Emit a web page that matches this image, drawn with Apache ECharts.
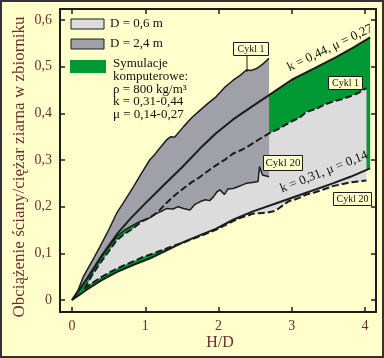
<!DOCTYPE html>
<html><head><meta charset="utf-8">
<script src="https://cdn.jsdelivr.net/npm/echarts@6/dist/echarts.min.js"></script>
<style>html,body{margin:0;padding:0;background:#FFFFCC}#c{width:384px;height:358px}</style>
</head><body><div id="c"></div>
<script>
// ---- tick values ----
const xTicks = [0, 1, 2, 3, 4];
const yTicks = [0, 0.1, 0.2, 0.3, 0.4, 0.5, 0.6];

// ---- D = 2,4 m envelope (Cykl 1 upper, Cykl 20 lower) ----
const grayTop = [[0,0],[0.08,0.02],[0.155,0.05],[0.27,0.082],[0.38,0.114],[0.5,0.15],[0.61,0.186],[0.72,0.213],[0.84,0.243],[0.95,0.272],[1.06,0.300],[1.12,0.31],[1.18,0.322],[1.29,0.343],[1.35,0.35],[1.4,0.349],[1.52,0.371],[1.63,0.39],[1.75,0.407],[1.86,0.422],[1.97,0.436],[2.08,0.455],[2.2,0.471],[2.3,0.482],[2.38,0.493],[2.45,0.492],[2.52,0.496],[2.6,0.505],[2.69,0.518]];
const grayBottom = [[0,0],[0.155,0.034],[0.27,0.06],[0.38,0.087],[0.5,0.114],[0.61,0.136],[0.72,0.15],[0.84,0.161],[0.95,0.17],[1.06,0.176],[1.15,0.185],[1.22,0.19],[1.29,0.196],[1.38,0.195],[1.45,0.2],[1.52,0.196],[1.61,0.193],[1.68,0.205],[1.75,0.211],[1.82,0.215],[1.88,0.213],[1.93,0.221],[1.98,0.232],[2.02,0.236],[2.08,0.226],[2.13,0.238],[2.2,0.239],[2.3,0.245],[2.38,0.25],[2.46,0.252],[2.54,0.254],[2.56,0.286],[2.6,0.268],[2.69,0.264]];

// ---- D = 0,6 m envelope (Cykl 1 upper dashed, Cykl 20 lower dashed) ----
const lightTop = [[0.17,0.024],[0.27,0.052],[0.38,0.078],[0.5,0.104],[0.61,0.128],[0.72,0.142],[0.84,0.154],[0.95,0.168],[1.06,0.176],[1.18,0.19],[1.29,0.208],[1.4,0.224],[1.52,0.239],[1.63,0.252],[1.75,0.264],[1.86,0.277],[1.97,0.289],[2.1,0.302],[2.2,0.314],[2.32,0.322],[2.43,0.332],[2.56,0.345],[2.69,0.357],[2.8,0.365],[2.9,0.374],[3.0,0.383],[3.1,0.39],[3.2,0.403],[3.34,0.41],[3.45,0.419],[3.56,0.425],[3.68,0.43],[3.79,0.436],[3.9,0.443],[4.02,0.454]];
const lightBottom = [[0.17,0.024],[0.27,0.036],[0.38,0.047],[0.5,0.058],[0.61,0.067],[0.72,0.075],[0.84,0.083],[0.95,0.091],[1.06,0.097],[1.18,0.104],[1.3,0.111],[1.42,0.118],[1.52,0.123],[1.65,0.131],[1.75,0.137],[1.86,0.144],[1.97,0.151],[2.1,0.161],[2.2,0.169],[2.3,0.176],[2.4,0.181],[2.47,0.185],[2.56,0.186],[2.65,0.187],[2.75,0.19],[2.82,0.196],[2.9,0.205],[2.96,0.212],[3.02,0.214],[3.1,0.219],[3.2,0.226],[3.3,0.23],[3.38,0.234],[3.47,0.239],[3.56,0.244],[3.68,0.248],[3.79,0.252],[3.9,0.254],[4.02,0.256]];

// ---- computer simulations: k=0,44 mu=0,27 (upper), k=0,31 mu=0,14 (lower) ----
const simUpper = [[0,0],[0.1,0.022],[0.2,0.045],[0.4,0.094],[0.627,0.144],[0.8,0.175],[1.0,0.207],[1.25,0.246],[1.5,0.284],[1.75,0.325],[1.97,0.358],[2.2,0.387],[2.45,0.414],[2.69,0.439],[3.0,0.472],[3.3,0.496],[3.6,0.52],[3.85,0.542],[4.07,0.563]];
const simLower = [[0,0],[0.1,0.011],[0.2,0.022],[0.4,0.042],[0.61,0.06],[0.85,0.076],[1.06,0.089],[1.3,0.107],[1.52,0.124],[1.75,0.139],[1.97,0.153],[2.2,0.172],[2.47,0.19],[2.8,0.208],[3.11,0.225],[3.56,0.25],[3.8,0.264],[4.07,0.282]];

const BROWN = '#6B2F2F';
const INK = '#1c1c1c';
const SERIF = '"Liberation Serif","DejaVu Serif",serif';
const fmt = v => (Math.abs(v) < 1e-9 ? '0' : String(Math.round(v * 10) / 10).replace('.', ','));

function poly(top, bottom) { return top.concat(bottom.slice().reverse()); }
function areaSeries(pts, color, z) {
  return {
    type: 'custom', coordinateSystem: 'cartesian2d', z: z, silent: true, clip: true,
    data: pts, encode: { x: 0, y: 1 },
    renderItem: function (params, api) {
      if (params.dataIndex !== 0) return null;
      return { type: 'polygon', shape: { points: pts.map(p => api.coord(p)) }, style: { fill: color } };
    }
  };
}
function lineSeries(data, width, dashed, z) {
  return {
    type: 'line', data: data, symbol: 'none', silent: true, z: z, clip: true,
    lineStyle: { color: INK, width: width, type: dashed ? [7, 3] : 'solid' }
  };
}
const axisCommon = {
  type: 'value',
  axisLine: { show: true, onZero: false, lineStyle: { color: INK, width: 2 } },
  splitLine: { show: false }
};
const xMin = -0.164, xMax = 4.15, yMin = -0.0257, yMax = 0.6236;

const chart = echarts.init(document.getElementById('c'));
chart.setOption({
  animation: false,
  backgroundColor: '#FFFFCC',
  grid: { left: 60, right: 8, top: 9, bottom: 46 },
  xAxis: [
    Object.assign({}, axisCommon, { min: xMin, max: xMax, position: 'bottom',
      axisTick: { show: true, inside: true, length: 5, lineStyle: { color: INK, width: 1.5 }, customValues: xTicks },
      axisLabel: { customValues: xTicks, formatter: fmt, color: BROWN, fontFamily: SERIF, fontSize: 14, margin: 7 } }),
    Object.assign({}, axisCommon, { min: xMin, max: xMax, position: 'top',
      axisTick: { show: true, inside: true, length: 5, lineStyle: { color: INK, width: 1.5 }, customValues: xTicks },
      axisLabel: { show: false } })
  ],
  yAxis: [
    Object.assign({}, axisCommon, { min: yMin, max: yMax, position: 'left',
      axisTick: { show: true, inside: true, length: 5, lineStyle: { color: INK, width: 1.5 }, customValues: yTicks },
      axisLabel: { customValues: yTicks, formatter: fmt, color: BROWN, fontFamily: SERIF, fontSize: 14, margin: 8 } }),
    Object.assign({}, axisCommon, { min: yMin, max: yMax, position: 'right',
      axisTick: { show: true, inside: true, length: 5, lineStyle: { color: INK, width: 1.5 }, customValues: yTicks },
      axisLabel: { show: false } })
  ],
  series: [
    areaSeries(poly(simUpper, simLower), '#009933', 1),
    areaSeries(poly(lightTop, lightBottom), '#DCDCDC', 2),
    areaSeries(poly(grayTop, grayBottom), '#A0A0A8', 3),
    lineSeries(grayTop, 1.5, false, 5),
    lineSeries(grayBottom, 1.5, false, 5),
    lineSeries(lightTop, 2, true, 5),
    lineSeries(lightBottom, 2, true, 5),
    lineSeries(simUpper, 2, false, 6),
    lineSeries(simLower, 2, false, 6)
  ],
  graphic: [
    { type: 'rect', shape: { x: 1, y: 1, width: 382, height: 356 }, style: { fill: 'none', stroke: '#333', lineWidth: 2 }, z: 100 },
    // axis names
    { type: 'text', x: 20, y: 167, rotation: Math.PI / 2, z: 20, style: { text: 'Obciążenie ściany/ciężar ziarna w zbiorniku', font: '17px ' + SERIF, fill: BROWN, align: 'center', verticalAlign: 'middle' } },
    { type: 'text', x: 220, y: 343, z: 20, style: { text: 'H/D', font: '16px ' + SERIF, fill: BROWN, align: 'center', verticalAlign: 'middle' } },
    // legend
    { type: 'rect', z: 20, shape: { x: 71, y: 19, width: 33, height: 10 }, style: { fill: '#DCDCDC', stroke: INK, lineWidth: 1 } },
    { type: 'text', z: 20, x: 110, y: 24, style: { text: 'D = 0,6 m', font: '13px ' + SERIF, fill: '#111', verticalAlign: 'middle' } },
    { type: 'rect', z: 20, shape: { x: 71, y: 39, width: 33, height: 10 }, style: { fill: '#A0A0A8', stroke: INK, lineWidth: 1 } },
    { type: 'text', z: 20, x: 110, y: 44, style: { text: 'D = 2,4 m', font: '13px ' + SERIF, fill: '#111', verticalAlign: 'middle' } },
    { type: 'rect', z: 20, shape: { x: 70, y: 60, width: 36, height: 13 }, style: { fill: '#009933' } },
    { type: 'text', z: 20, x: 113, y: 64, style: { text: 'Symulacje', font: '13px ' + SERIF, fill: '#111', verticalAlign: 'middle' } },
    { type: 'text', z: 20, x: 113, y: 76.5, style: { text: 'komputerowe:', font: '13px ' + SERIF, fill: '#111', verticalAlign: 'middle' } },
    { type: 'text', z: 20, x: 113, y: 89.5, style: { text: 'ρ = 800 kg/m³', font: '13px ' + SERIF, fill: '#111', verticalAlign: 'middle' } },
    { type: 'text', z: 20, x: 113, y: 102, style: { text: 'k = 0,31-0,44', font: '13px ' + SERIF, fill: '#111', verticalAlign: 'middle' } },
    { type: 'text', z: 20, x: 113, y: 115, style: { text: 'μ = 0,14-0,27', font: '13px ' + SERIF, fill: '#111', verticalAlign: 'middle' } },
    // line labels
    { type: 'text', z: 20, x: 330, y: 48, rotation: 0.45, style: { text: 'k = 0,44, μ = 0,27', font: '13px ' + SERIF, fill: '#111', align: 'center', verticalAlign: 'middle' } },
    { type: 'text', z: 20, x: 324, y: 172, rotation: 0.38, style: { text: 'k = 0,31, μ = 0,14', font: '13px ' + SERIF, fill: '#111', align: 'center', verticalAlign: 'middle' } },
    // Cykl boxes
    { type: 'line', shape: { x1: 247, y1: 55, x2: 247, y2: 72 }, style: { stroke: INK, lineWidth: 1 }, z: 20 },
    { type: 'rect', shape: { x: 233.5, y: 42.5, width: 35, height: 13 }, style: { fill: '#FFFFCC', stroke: INK, lineWidth: 1 }, z: 20 },
    { type: 'text', x: 251, y: 49, style: { text: 'Cykl 1', font: '10px ' + SERIF, fill: '#111', align: 'center', verticalAlign: 'middle' }, z: 21 },
    { type: 'rect', shape: { x: 328.5, y: 76.5, width: 34, height: 13 }, style: { fill: '#FFFFCC', stroke: INK, lineWidth: 1 }, z: 20 },
    { type: 'text', x: 345.5, y: 83, style: { text: 'Cykl 1', font: '10px ' + SERIF, fill: '#111', align: 'center', verticalAlign: 'middle' }, z: 21 },
    { type: 'rect', shape: { x: 263.5, y: 155.5, width: 39, height: 15 }, style: { fill: '#FFFFCC', stroke: INK, lineWidth: 1 }, z: 20 },
    { type: 'text', x: 283, y: 163, style: { text: 'Cykl 20', font: '11px ' + SERIF, fill: '#111', align: 'center', verticalAlign: 'middle' }, z: 21 },
    { type: 'rect', shape: { x: 333.5, y: 192.5, width: 38, height: 13 }, style: { fill: '#FFFFCC', stroke: INK, lineWidth: 1 }, z: 20 },
    { type: 'text', x: 352.5, y: 199, style: { text: 'Cykl 20', font: '10px ' + SERIF, fill: '#111', align: 'center', verticalAlign: 'middle' }, z: 21 }
  ]
});
</script>
</body></html>
